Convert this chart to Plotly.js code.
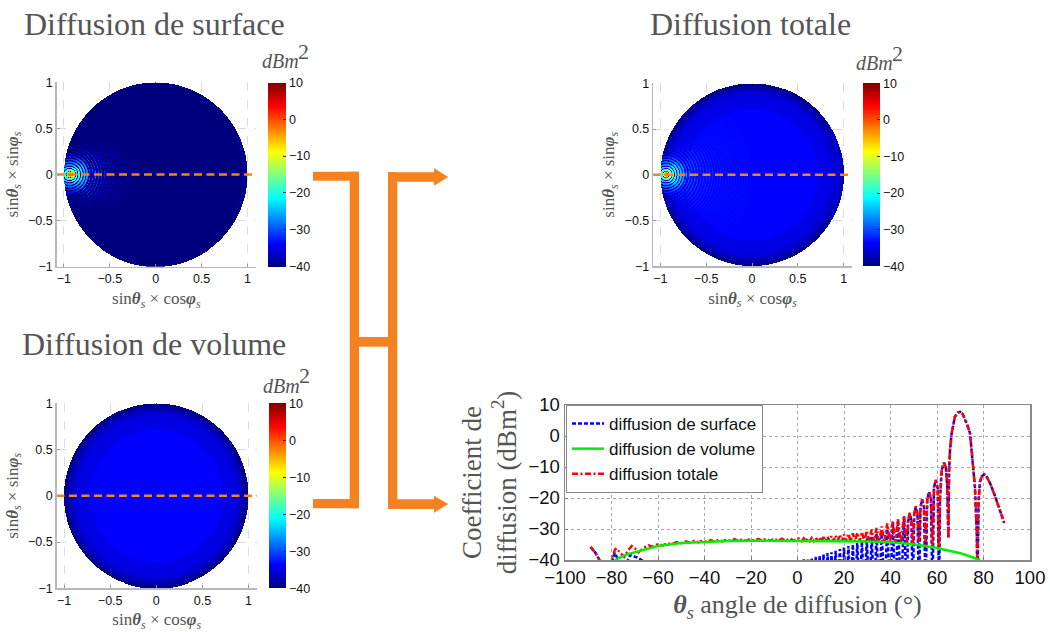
<!DOCTYPE html>
<html><head><meta charset="utf-8">
<script src="https://cdn.plot.ly/plotly-3.0.1.min.js"></script>
<style>html,body{margin:0;padding:0;background:#fff}#c{width:1050px;height:632px}</style>
</head><body><div id="c"></div>
<script>
// ---- values (angle in degrees, level in dBm2)
const thetaSurface=[-89,-87,-85.2,-84,-82,-80,-78.6,-76.5,-75,-73.5,-72,-69,-67,-65,-40,0,
1,1.85,2.7,3.55,4.4,5.25,6.1,6.95,7.8,8.65,9.5,10.35,11.2,12.05,12.9,13.75,14.6,15.5,16.4,17.3,18.2,19.1,20,20.95,
21.9,22.85,23.8,24.75,25.7,26.7,27.7,28.75,29.8,30.85,31.9,32.95,34,35.1,36.2,37.4,38.6,39.8,41,42.1,43.2,44.5,45.8,47.05,
47.6,48.3,49,49.6,50.2,50.9,51.6,52.25,52.9,53.6,54.4,55.1,55.8,56.6,57.4,58.05,58.7,59.5,60.3,60.9,
61.3,62,63,63.8,64.4,64.9,65.2,65.6,66.3,67.7,69,69.9,71,72,73,74.2,75.6,76.3,77.1,77.35,77.9,78.5,79.3,80.3,81.2,83,85,87,88.9];
const surfaceDb=[-35.8,-37.6,-40,-52,-50,-41,-37.7,-41,-50,-41,-38.4,-39.2,-40,-50,-55,-50,
-40,-52,-39.8,-52,-39.6,-52,-39.3,-52,-39,-52,-38.5,-52,-38.2,-52,-37.8,-52,-37.5,-52,-37,-52,-36.5,-52,-36,-52,
-35.5,-52,-35,-52,-34.5,-52,-34,-52,-33,-52,-32.5,-52,-31.5,-52,-30.5,-52,-29,-52,-28,-52,-27.3,-52,-26,-52,
-27.5,-25,-27.5,-52,-25.3,-22.8,-25.3,-52,-23,-20.5,-23,-52,-20.5,-18,-20.5,-52,-16.5,-14.2,-17,-52,
-20,-11,-8.6,-10,-16,-33,-11,-4.5,0.8,6.2,7.6,7.8,7.2,5.6,3.6,0.9,-9.9,-16.3,-31,-52,-20.6,-14.7,-13,-12.4,-12.9,-15.5,-19.5,-24,-28];
const thetaVolume=[-78.5,-76,-73,-70,-66,-60,-50,-40,-30,-20,-10,0,10,20,30,40,50,60,65,70,74,78.5];
const volumeDb=[-40,-39,-38.1,-37.5,-36.5,-35.5,-34.5,-34.1,-33.9,-33.8,-33.8,-33.8,-33.8,-33.9,-34,-34.3,-34.9,-36.1,-36.9,-37.8,-38.8,-40];
const thetaTotal=[-89,-87,-85.2,-84,-81.5,-80,-78.5,-77.8,-76.5,-74.5,-73,-71.3,-70,-68.4,-66,-64,-62.4,-60,-58,-56,-54,-52,-50,-48,-46.2,-44.4,-42.6,-40.8,-39,-37.3,-35.6,-33.9,-32.2,-30.5,-28.8,-27.1,-25.4,-23.7,-22,-20.3,-18.6,-16.9,-15.2,-13.5,-11.8,-10.1,-8.4,-6.7,-5,-3.3,-1.6,0,
1,1.85,2.7,3.55,4.4,5.25,6.1,6.95,7.8,8.65,9.5,10.35,11.2,12.05,12.9,13.75,14.6,15.5,16.4,17.3,18.2,19.1,20,20.95,
21.9,22.85,23.8,24.75,25.7,26.7,27.7,28.75,29.8,30.85,31.9,32.95,34,35.1,36.2,37.4,38.6,39.8,41,42.1,43.2,44.5,45.8,47.05,
47.6,48.3,49,49.6,50.2,50.9,51.6,52.25,52.9,53.6,54.4,55.1,55.8,56.6,57.4,58.05,58.7,59.5,60.3,60.9,
61.3,62,63,63.8,64.4,64.9,65.2,65.6,66.3,67.7,69,69.9,71,72,73,74.2,75.6,76.3,77.1,77.35,77.9,78.5,79.3,80.3,81.2,83,85,87,88.9];
const totalDb=[-35.8,-37.6,-40,-50,-50,-40,-36.6,-36.2,-37.5,-39,-37,-35.5,-36.2,-37.5,-36,-35.3,-35.7,-34.9,-35.3,-34.6,-34.9,-34.2,-34.6,-34,-34.5,-33.8,-34.3,-33.7,-34.2,-33.6,-34.1,-33.5,-34,-33.4,-33.9,-33.3,-33.9,-33.3,-33.8,-33.2,-33.8,-33.2,-33.8,-33.1,-33.8,-33.1,-33.8,-33.1,-33.8,-33,-33.8,-33,
-33.1,-33.9,-33,-33.9,-33,-33.9,-32.9,-33.9,-32.8,-33.9,-32.7,-33.9,-32.6,-33.9,-32.5,-33.9,-32.3,-33.9,-32.1,-33.9,-31.9,-34,-31.7,-34,
-31.5,-34,-31.4,-34,-31.2,-34,-31,-34.1,-30.5,-34.1,-30.2,-34.1,-29.7,-34.2,-29.2,-34.2,-28.2,-34.3,-27.4,-34.4,-26.8,-34.5,-25.7,-34.6,
-27,-24.8,-27,-34.8,-25,-22.7,-25,-35,-22.8,-20.4,-22.8,-35.3,-20.4,-18,-20.4,-35.6,-16.5,-14.2,-17,-36,
-20,-11,-8.6,-10,-16,-33,-11,-4.5,0.8,6.2,7.6,7.8,7.2,5.6,3.6,0.9,-9.9,-16.3,-31,-39,-20.6,-14.7,-13,-12.4,-12.9,-15.5,-19.5,-24,-28];
// disc tables: volume level by radius, fall-off of the surface fringes by bearing from the specular spot
const volumeRadius=[0,0.72,0.7201,0.85,0.9,0.94,0.98,1.01];
const volumeLevel=[-33.9,-33.9,-34.9,-35.2,-36,-37.5,-39.5,-40];
const bearingDeg=[0,30,45,60,75,90,180];
const bearingLossDb=[0,-1,-2.5,-5,-7,-8,-8];
const specularSpotX=-0.94;
const discTicks=[-1,-0.5,0,0.5,1];
const barTicks=[-40,-30,-20,-10,0,10];
const cutXTicks=[-100,-80,-60,-40,-20,0,20,40,60,80,100];
const cutYTicks=[-40,-30,-20,-10,0,10];

const W=1050,H=632;
const px=v=>v/W, py=v=>1-v/H;
function lerp(xs,ys,x){
  if(x<=xs[0])return ys[0];
  for(let i=1;i<xs.length;i++){ if(x<=xs[i]){const t=(x-xs[i-1])/((xs[i]-xs[i-1])||1);return ys[i-1]+t*(ys[i]-ys[i-1]);} }
  return ys[ys.length-1];
}
function surfaceAt(x,y){
  const dx=x-specularSpotX, d=Math.hypot(dx,y), xe=specularSpotX+d;
  if(xe>=1)return -55;
  const th=Math.asin(-xe)*180/Math.PI;
  const bearing=Math.atan2(Math.abs(y),dx)*180/Math.PI;
  return lerp(thetaSurface,surfaceDb,th)+lerp(bearingDeg,bearingLossDb,bearing);
}
const volumeAt=(x,y)=>lerp(volumeRadius,volumeLevel,Math.hypot(x,y));
const totalAt=(x,y)=>10*Math.log10(Math.pow(10,surfaceAt(x,y)/10)+Math.pow(10,volumeAt(x,y)/10));
const N=184, grid=[]; for(let i=-N;i<=N;i++)grid.push(i/N);
function field(f){return grid.map(y=>grid.map(x=>(x*x+y*y<=1)?f(x,y):null));}

const jet=[[0,'#00007F'],[0.125,'#0000FF'],[0.375,'#00FFFF'],[0.625,'#FFFF00'],[0.875,'#FF0000'],[1,'#7F0000']];
const SANS='"Liberation Sans",Arial,sans-serif', SERIF='"Liberation Serif",serif';
const ORANGE='#F58220', GREY='#555';
const sinTh='sin<b><i>θ</i></b><sub><i>s</i></sub>', xT=sinTh+' × cos<b><i>φ</i></b><sub><i>s</i></sub>', yT=sinTh+' × sin<b><i>φ</i></b><sub><i>s</i></sub>';

const panels=[
 {key:'',f:surfaceAt,L:56.7,R:256,T:82.3,B:266.7,x0:155.7,u:91.8,cb:268,cw:17.7,dl:44,dr:257},
 {key:'2',f:volumeAt,L:56.7,R:256.7,T:403.3,B:588.3,x0:156.3,u:92.2,cb:269.3,cw:17,dl:44,dr:257},
 {key:'3',f:totalAt,L:653.3,R:851.7,T:83.3,B:266.2,x0:752,u:91.6,cb:863.3,cw:17.4,dl:640,dr:851}
];
const traces=[], layout={width:W,height:H,margin:{l:0,r:0,t:0,b:0},paper_bgcolor:'#fff',plot_bgcolor:'#fff',showlegend:true,
  font:{family:SANS,color:'#111'},annotations:[],shapes:[]};
panels.forEach(p=>{
  const xa={domain:[px(p.L),px(p.R)],range:[(p.L-p.x0)/p.u,(p.R-p.x0)/p.u],tickvals:discTicks,ticktext:['−1','−0.5','0','0.5','1'],tickmode:'array',
    ticks:'inside',ticklen:3,tickcolor:'#999',showgrid:true,griddash:'dash',gridcolor:'#dcdcdc',gridwidth:1,zeroline:false,showline:true,linecolor:'#b8b8b8',linewidth:1.5,
    tickfont:{family:SANS,size:12.5,color:'#111'},anchor:'y'+p.key,
    title:{text:xT,font:{family:SERIF,size:17,color:GREY},standoff:7},automargin:false};
  const ya={domain:[py(p.B),py(p.T)],range:[-1,1],tickvals:discTicks,ticktext:['−1','−0.5','0','0.5','1'],tickmode:'array',
    ticks:'inside',ticklen:3,tickcolor:'#999',showgrid:true,griddash:'dash',gridcolor:'#dcdcdc',gridwidth:1,zeroline:false,showline:true,linecolor:'#b8b8b8',linewidth:1.5,
    tickfont:{family:SANS,size:12.5,color:'#111'},anchor:'x'+p.key,
    title:{text:yT,font:{family:SERIF,size:17,color:GREY},standoff:5},automargin:false};
  layout['xaxis'+p.key]=xa; layout['yaxis'+p.key]=ya;
  traces.push({type:'heatmap',x:grid,y:grid,z:field(p.f),xaxis:'x'+p.key,yaxis:'y'+p.key,colorscale:jet,zmin:-40,zmax:10,zsmooth:false,hoverinfo:'skip',showscale:true,
    colorbar:{x:px(p.cb),xanchor:'left',xpad:0,y:(py(p.T)+py(p.B))/2,yanchor:'middle',ypad:0,len:(p.B-p.T)/H,lenmode:'fraction',thickness:p.cw,thicknessmode:'pixels',
      tickvals:barTicks,tickmode:'array',ticks:'inside',ticklen:3,tickcolor:'#333',outlinewidth:0,tickfont:{family:SANS,size:12.5,color:'#111'}}});
  traces.push({type:'scatter',mode:'lines',x:[(p.dl-p.x0)/p.u,(p.dr-p.x0)/p.u],y:[0,0],xaxis:'x'+p.key,yaxis:'y'+p.key,cliponaxis:false,showlegend:false,hoverinfo:'skip',
    line:{color:ORANGE,width:2.5,dash:'8px,4.5px'}});
});
// scattering cut
layout.xaxis4={domain:[px(565),px(1030)],range:[-100,100],tickvals:cutXTicks,tickmode:'array',ticks:'inside',ticklen:3,tickcolor:'#777',showline:true,mirror:true,linecolor:'#888',linewidth:1.5,
  showgrid:true,griddash:'dot',gridcolor:'#a8a8a8',zeroline:false,tickfont:{family:SANS,size:18.5,color:'#111'},anchor:'y4',
  title:{text:'<b><i>θ</i></b><sub><i>s</i></sub> angle de diffusion (°)',font:{family:SERIF,size:26,color:GREY},standoff:8}};
layout.yaxis4={domain:[py(560),py(405)],range:[-40,10],tickvals:cutYTicks,tickmode:'array',ticks:'inside',ticklen:3,tickcolor:'#777',showline:true,mirror:true,linecolor:'#888',linewidth:1.5,
  showgrid:true,griddash:'dot',gridcolor:'#a8a8a8',zeroline:false,tickfont:{family:SANS,size:18.5,color:'#111'},anchor:'x4',
  title:{text:'Coefficient de<br>diffusion (dBm<sup>2</sup>)',font:{family:SERIF,size:27,color:GREY},standoff:4}};
traces.push({type:'scatter',mode:'lines',name:'diffusion de surface',legendrank:1,x:thetaSurface,y:surfaceDb,xaxis:'x4',yaxis:'y4',line:{color:'#0000FF',width:2.5,dash:'4px,2px'}});
traces.push({type:'scatter',mode:'lines',name:'diffusion totale',legendrank:3,x:thetaTotal,y:totalDb,xaxis:'x4',yaxis:'y4',line:{color:'#FF0000',width:2.5,dash:'6px,2.5px,2px,2.5px'}});
traces.push({type:'scatter',mode:'lines',name:'diffusion de volume',legendrank:2,x:thetaVolume,y:volumeDb,xaxis:'x4',yaxis:'y4',line:{color:'#00EE00',width:2.5}});
layout.legend={x:px(566),xanchor:'left',y:py(405),yanchor:'top',bgcolor:'#fff',bordercolor:'#888',borderwidth:1,font:{family:SANS,size:17,color:'#111'},itemwidth:32,tracegroupgap:0};
// headings
function note(text,x,y,size,anchor,extra){layout.annotations.push(Object.assign({text,xref:'paper',yref:'paper',x:px(x),y:py(y),showarrow:false,xanchor:anchor||'left',yanchor:'middle',
  font:{family:SERIF,size,color:GREY}},extra||{}));}
note('Diffusion de surface',22,24,32);
note('Diffusion totale',648,24,32);
note('Diffusion de volume',20,344,32);
[[260,61.5],[260.5,386],[854,63]].forEach(q=>{note('<i>dBm</i>',q[0],q[1],20);note('2',q[0]+36,q[1]-10,22);});
// connectors
const rects=[[313,171.7,359,180.7],[349.7,171.7,359,508.3],[313,499,359,508.3],[359,337,388,346.7],[388,172.3,397.3,509],[388,172.3,434,181.7],[388,499.3,434,509]];
rects.forEach(r=>layout.shapes.push({type:'rect',xref:'paper',yref:'paper',x0:px(r[0]),y0:py(r[1]),x1:px(r[2]),y1:py(r[3]),fillcolor:ORANGE,line:{width:0},layer:'above'}));
[[434,168.3,185.7,177],[434,495.7,512.7,504]].forEach(a=>{
  const tipX=448.3;
  layout.shapes.push({type:'path',xref:'paper',yref:'paper',path:`M${px(a[0])},${py(a[1])} L${px(tipX)},${py(a[3])} L${px(a[0])},${py(a[2])} Z`,fillcolor:ORANGE,line:{width:0},layer:'above'});
});
Plotly.newPlot('c',traces,layout,{staticPlot:true,displayModeBar:false});
</script></body></html>
